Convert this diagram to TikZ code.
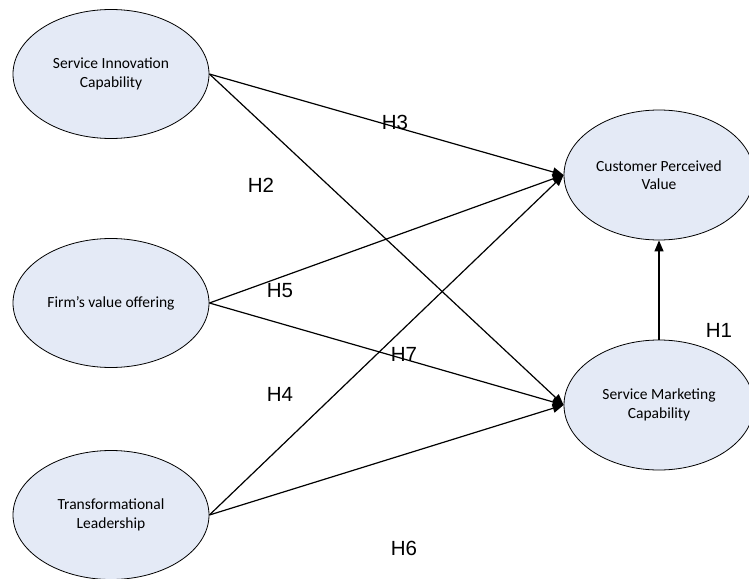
\documentclass[tikz,border=0pt]{standalone}
\usepackage{fontspec}
\setmainfont{Carlito}
\newfontfamily\hfont{Liberation Sans}
\usetikzlibrary{shapes.geometric,arrows.meta}
\definecolor{varfill}{RGB}{228,234,246}

\begin{document}
\begin{tikzpicture}[x=1pt,y=-1pt,
    var/.style={ellipse, draw=black, line width=.8pt, fill=varfill, align=center, inner sep=0pt,
      minimum width=196pt, minimum height=129pt, font=\fontsize{15.5}{18.5}\selectfont},
    hyp/.style={font=\hfont\fontsize{20.5}{24}\selectfont, inner sep=0pt},
    >={Triangle[length=11pt,width=9pt]}]
    \useasboundingbox (0,0) rectangle (749,578);
    % exogenous variables
    \node[var] (sic) at (111,74) {Service Innovation\\Capability};
    \node[var] (firm) at (111,303) {Firm’s value offering};
    \node[var] (trans) at (111,515) {Transformational\\Leadership};
    % endogenous variables
    \node[var, minimum width=190pt, minimum height=130pt] (cpv) at (659,175) {Customer Perceived\\Value};
    \node[var, minimum width=190pt, minimum height=130pt] (smc) at (659,405) {Service Marketing\\Capability};
    \foreach \from/\to in
    {sic/cpv,sic/smc,firm/cpv,firm/smc,trans/cpv,trans/smc}
    \draw[->, line width=1.2pt] (\from.east) -- (\to.west);
    \draw[->, line width=1.2pt] (smc.north) -- (cpv.south);
    % hypotheses
    \node[hyp] (h1) at (719,330) {H1};
    \node[hyp] (h2) at (261,185) {H2};
    \node[hyp] (h3) at (395,122) {H3};
    \node[hyp] (h4) at (280,394) {H4};
    \node[hyp] (h5) at (280,291) {H5};
    \node[hyp] (h6) at (404,548) {H6};
    \node[hyp] (h7) at (404,354) {H7};
\end{tikzpicture}
\end{document}
